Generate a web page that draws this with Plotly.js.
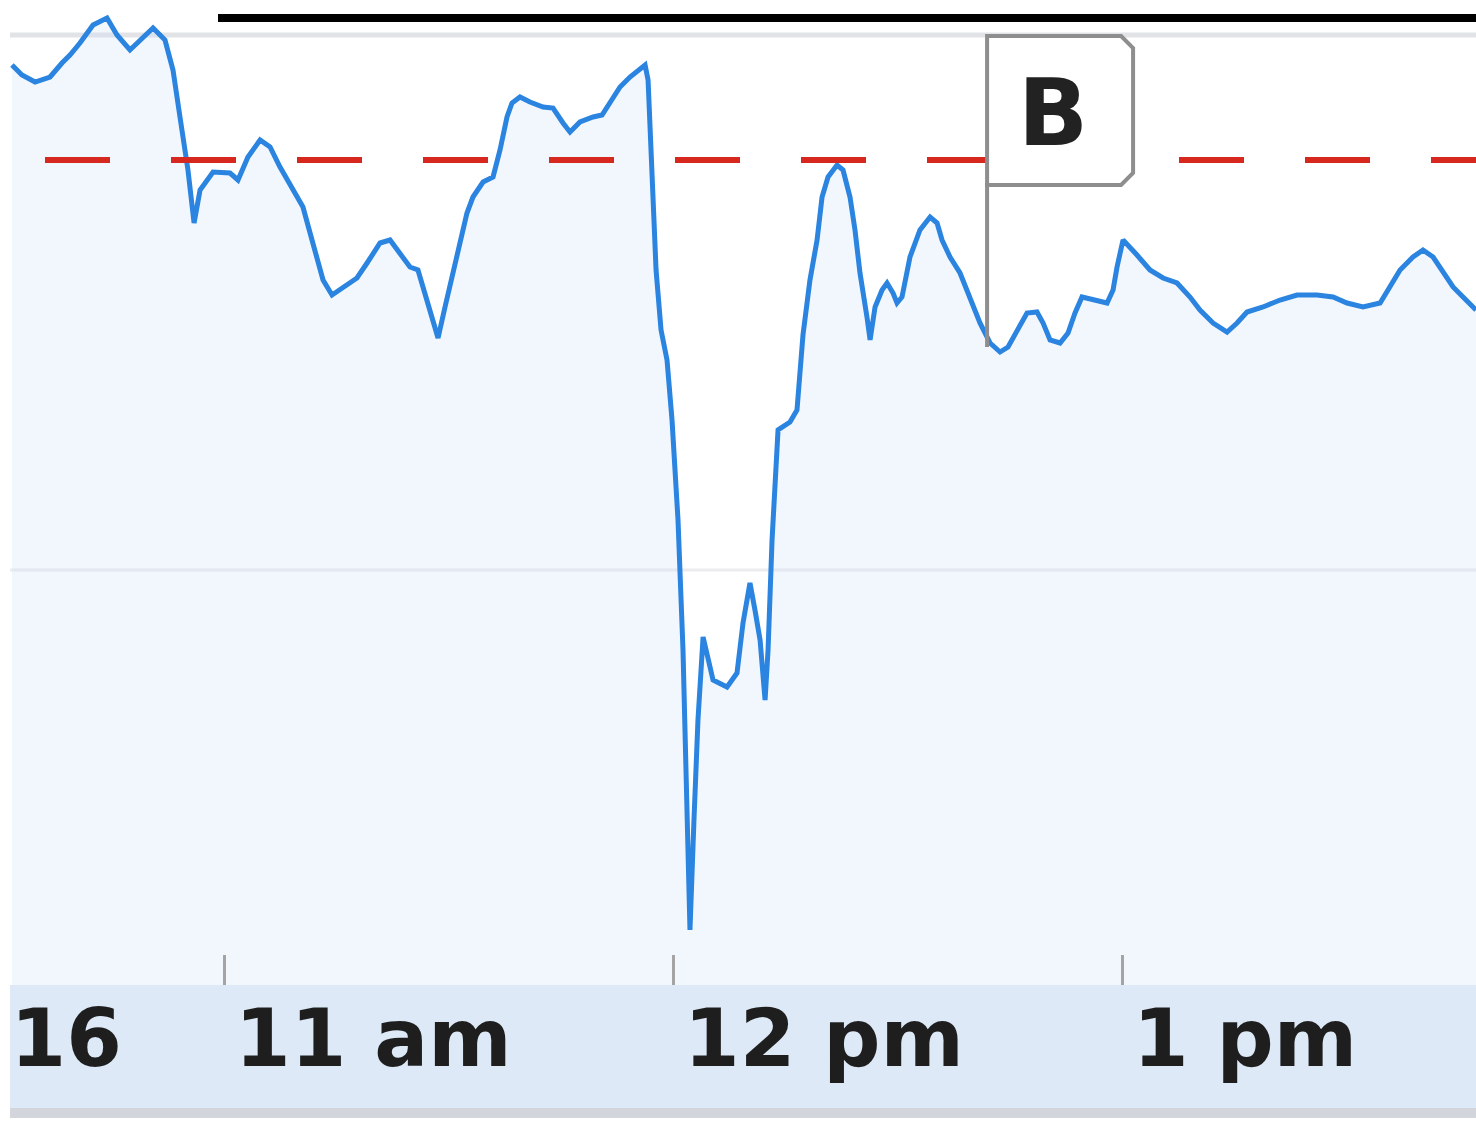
<!DOCTYPE html>
<html><head><meta charset="utf-8">
<script src="https://cdn.plot.ly/plotly-3.0.1.min.js"></script>
<style>html,body{margin:0;padding:0;background:#fff;overflow:hidden}#chart{width:1476px;height:1130px}</style>
</head><body><div id="chart"></div>
<script>
const DAY = '2010-03-16';
const times = ['10:31:36','10:32:56','10:34:41','10:36:41','10:38:17','10:39:21','10:40:41','10:42:26','10:44:18','10:45:38',
'10:47:22','10:49:07','10:50:27','10:52:03','10:53:07','10:54:03','10:54:43','10:55:07','10:55:56','10:56:44',
'10:58:28','11:00:44','11:01:48','11:03:08','11:04:45','11:06:05','11:07:25','11:09:09','11:10:29','11:11:26',
'11:12:22','11:13:10','11:14:22','11:15:50','11:17:42','11:19:03','11:20:47','11:22:07','11:23:27','11:24:47',
'11:25:51','11:26:32','11:27:28','11:28:32','11:29:28','11:30:32','11:31:28','11:32:24','11:33:12','11:34:33',
'11:35:53','11:36:49','11:37:45','11:38:25','11:39:29','11:40:49','11:42:34','11:43:54','11:45:14','11:46:10',
'11:47:30','11:49:15','11:50:27','11:51:31','11:52:51','11:54:11','11:56:12','11:56:36','11:57:08','11:57:40',
'11:58:20','11:59:08','11:59:48','12:00:36','12:01:16','12:01:48','12:02:12','12:02:44','12:03:16','12:03:57',
'12:04:37','12:05:17','12:07:09','12:08:29','12:09:17','12:10:13','12:10:53','12:11:34','12:12:14','12:12:38',
'12:13:10','12:13:58','12:15:34','12:16:30','12:17:18','12:18:14','12:19:11','12:19:51','12:20:39','12:21:51',
'12:22:39','12:23:35','12:24:15','12:24:55','12:25:51','12:26:16','12:26:56','12:27:52','12:28:32','12:29:20',
'12:29:52','12:30:32','12:31:36','12:32:56','12:34:17','12:35:13','12:35:53','12:36:57','12:38:17','12:39:37',
'12:40:57','12:42:18','12:43:38','12:44:42','12:45:54','12:47:14','12:48:34','12:49:23','12:50:19','12:51:39',
'12:52:43','12:53:39','12:54:35','12:56:03','12:57:56','12:58:44','12:59:16','13:00:04','13:01:00','13:01:56',
'13:03:40','13:05:25','13:07:17','13:09:01','13:10:21','13:12:06','13:13:58','13:15:18','13:16:38','13:18:47',
'13:21:03','13:23:19','13:25:59','13:28:08','13:30:00','13:32:08','13:34:25','13:35:45','13:37:05','13:38:49',
'13:40:09','13:41:30','13:42:50','13:44:10','13:45:30','13:47:14'];
const prices = [50.95,50.85,50.78,50.83,50.97,51.05,51.17,51.35,51.42,51.25,
51.10,51.23,51.32,51.20,50.90,50.43,50.13,49.90,49.37,49.70,
49.88,49.87,49.80,50.03,50.20,50.13,49.93,49.70,49.53,49.27,
49.00,48.80,48.65,48.72,48.82,48.97,49.17,49.20,49.07,48.93,
48.90,48.73,48.47,48.22,48.53,48.87,49.20,49.47,49.63,49.78,
49.83,50.10,50.43,50.57,50.63,50.58,50.53,50.52,50.37,50.28,
50.38,50.43,50.45,50.57,50.73,50.83,50.95,50.80,49.90,48.90,
48.30,48.00,47.40,46.40,45.10,43.60,42.30,43.40,44.40,45.23,
45.00,44.80,44.73,44.87,45.37,45.77,45.50,45.20,44.60,45.10,
46.20,47.30,47.38,47.50,48.25,48.80,49.20,49.63,49.83,49.95,
49.90,49.63,49.30,48.87,48.43,48.20,48.53,48.70,48.77,48.67,
48.57,48.63,49.03,49.30,49.43,49.37,49.20,49.03,48.87,48.63,
48.37,48.17,48.08,48.13,48.30,48.47,48.48,48.37,48.20,48.17,
48.27,48.47,48.63,48.60,48.57,48.70,48.93,49.20,49.13,49.05,
48.90,48.82,48.77,48.63,48.50,48.37,48.28,48.37,48.48,48.53,
48.60,48.65,48.65,48.63,48.57,48.53,48.57,48.73,48.90,49.03,
49.10,49.03,48.87,48.73,48.63,48.50];
const prevClose = 50.00;
const gridPrice = 45.90;
const tickTimes = ['10:30:00','11:00:00','12:00:00','13:00:00'];
const tickLabels = ['16','11 am','12 pm','1 pm'];
const flagTime = '12:41:54';
const flagLabel = 'B';
const viewStart = '10:30:00', viewEnd = '13:47:14';
const priceMin = 41.75, priceMax = 51.60;

const ts = t => DAY + ' ' + t;
const xs = times.map(ts);
// price of the series at the flag (nearest sample)
const flagMs = new Date(ts(flagTime).replace(' ', 'T')).getTime();
let fi = 0, best = Infinity;
times.forEach((t, i) => { const d = Math.abs(new Date(ts(t).replace(' ', 'T')).getTime() - flagMs); if (d < best) { best = d; fi = i; } });
const flagPrice = prices[fi];

const H = 985; // plot height in px
const trace = {
  type: 'scatter', mode: 'lines', x: xs, y: prices,
  line: {color: '#2a84e0', width: 5, shape: 'linear'},
  fill: 'tozeroy', fillcolor: 'rgba(205,226,249,0.26)',
  hoverinfo: 'skip'
};

const layout = {
  width: 1476, height: 1130,
  margin: {l: 0, r: 0, t: 0, b: 145, pad: 0},
  paper_bgcolor: '#ffffff', plot_bgcolor: 'rgba(0,0,0,0)',
  showlegend: false,
  xaxis: {
    type: 'date', range: [ts(viewStart), ts(viewEnd)],
    tickmode: 'array', tickvals: tickTimes.map(ts), ticktext: tickLabels,
    ticks: 'inside', ticklen: 30, tickwidth: 3, tickcolor: '#a4a4a4',
    ticklabelposition: 'outside right', ticklabelshift: 9, ticklabelstandoff: 0,
    tickfont: {family: 'DejaVu Sans', size: 80, color: '#1e1e1e', weight: 'bold'},
    showgrid: false, zeroline: false, showline: false, fixedrange: true
  },
  yaxis: {range: [priceMin, priceMax], visible: false, fixedrange: true},
  shapes: [
    {type: 'rect', xref: 'paper', yref: 'paper', x0: 10 / 1476, x1: 1, y0: -123 / H, y1: 0,
     fillcolor: '#dde9f7', line: {width: 0}, layer: 'below'},
    {type: 'rect', xref: 'paper', yref: 'paper', x0: 10 / 1476, x1: 1, y0: -133 / H, y1: -123 / H,
     fillcolor: '#d2d6dc', line: {width: 0}, layer: 'below'},
    {type: 'line', xref: 'paper', yref: 'paper', x0: 10 / 1476, x1: 1, y0: 1 - 35 / H, y1: 1 - 35 / H,
     line: {color: '#e2e3e7', width: 5}, layer: 'below'},
    {type: 'line', xref: 'paper', yref: 'y', x0: 10 / 1476, x1: 1, y0: gridPrice, y1: gridPrice,
     line: {color: '#ececef', width: 3}, layer: 'below'},
    {type: 'line', xref: 'paper', yref: 'paper', x0: 218 / 1476, x1: 1, y0: 1 - 18 / H, y1: 1 - 18 / H,
     line: {color: '#000000', width: 8}, layer: 'above'},
    {type: 'line', xref: 'paper', yref: 'y', x0: 45 / 1476, x1: 1, y0: prevClose, y1: prevClose,
     line: {color: '#d6281f', width: 6, dash: '65px,61px'}, layer: 'above'},
    {type: 'line', xref: 'x', yref: 'y', xsizemode: 'pixel', ysizemode: 'pixel',
     xanchor: ts(flagTime), yanchor: flagPrice, x0: 0, x1: 0, y0: -4, y1: 160,
     line: {color: '#8e8e8e', width: 4}, layer: 'above'},
    {type: 'path', xref: 'x', yref: 'y', xsizemode: 'pixel', ysizemode: 'pixel',
     xanchor: ts(flagTime), yanchor: flagPrice,
     path: 'M 0 158 L 0 307 L 134 307 L 146 295 L 146 170 L 134 158 Z',
     fillcolor: '#ffffff', line: {color: '#8e8e8e', width: 4}, layer: 'above'}
  ],
  annotations: [
    {x: ts(flagTime), y: flagPrice, xref: 'x', yref: 'y', text: flagLabel, showarrow: false,
     xanchor: 'center', yanchor: 'middle', xshift: 66, yshift: 230,
     font: {family: 'DejaVu Sans', size: 92, color: '#222222', weight: 'bold'}}
  ]
};

Plotly.newPlot('chart', [trace], layout, {staticPlot: true, displayModeBar: false});
</script></body></html>
